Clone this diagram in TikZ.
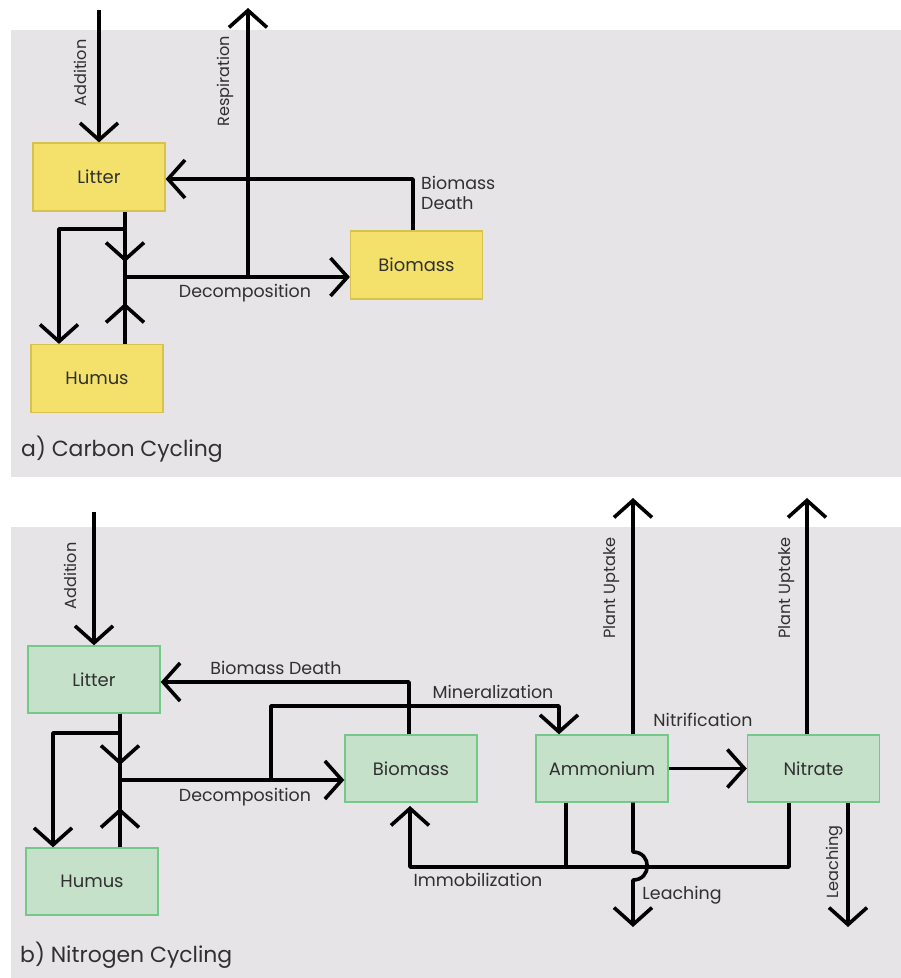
\documentclass[tikz,border=0pt]{standalone}
\usepackage{fontspec}
\setmainfont{Poppins}
\usetikzlibrary{arrows.meta}
\definecolor{panelgray}{HTML}{E6E4E6}
\definecolor{yfill}{HTML}{F3E16C}
\definecolor{ydraw}{HTML}{D6C24C}
\definecolor{gfill}{HTML}{C5E1C9}
\definecolor{gdraw}{HTML}{74C98A}
\definecolor{txt}{HTML}{303030}
\tikzset{
  flow/.style={line width=3.6bp, draw=black, line join=round,
    -{Straight Barb[length=17bp,width=38bp,line width=3.6bp]}},
  plain/.style={line width=3.6bp, draw=black, line join=round},
  ybox/.style={draw=ydraw, fill=yfill, line width=1.2bp, minimum width=132bp, minimum height=68bp, font=\fontsize{18}{20}\selectfont, text=txt, inner sep=0pt},
  gbox/.style={draw=gdraw, fill=gfill, line width=1.4bp, minimum width=132bp, minimum height=67bp, font=\fontsize{18}{20}\selectfont, text=txt, inner sep=0pt},
  lbl/.style={font=\fontsize{17.5}{20}\selectfont, text=txt, inner sep=0pt},
  vlbl/.style={font=\fontsize{16.2}{18}\selectfont, text=txt, inner sep=0pt, rotate=90},
  captxt/.style={font=\fontsize{22}{24}\selectfont, text=txt, inner sep=0pt, anchor=west},
}
\begin{document}
\begin{tikzpicture}[x=1bp,y=-1bp]
\useasboundingbox (0,0) rectangle (901,978);
\fill[white] (0,0) rectangle (901,978);
\fill[panelgray] (11,30) rectangle (901,477);
\fill[panelgray] (11,527) rectangle (901,978);

% ---------- a) Carbon cycling ----------
\node[ybox] (litC) at (99,177) {Litter};
\node[ybox] (humC) at (97,378.5) {Humus};
\node[ybox] (bioC) at (416.5,265) {Biomass};

\coordinate (addC) at (99,10);
\coordinate (jC) at (125,277);
\coordinate (jCa) at (125,262);
\coordinate (jCb) at (125,303);
\coordinate (brC) at (125,229);
\coordinate (brCL) at (59,229);
\coordinate (resT) at (248,8);
\coordinate (resB) at (248,277);
\coordinate (bdC) at (413,179);

\draw[flow] (addC) -- (litC.north);
\draw[plain] (litC.south -| jC) -- (jC);
\draw[plain] (humC.north -| jC) -- (jC);
\draw[flow] (litC.south -| jC) -- (jCa);
\draw[flow] (humC.north -| jC) -- (jCb);
\draw[flow] (brC) -- (brCL) -- (humC.north -| brCL);
\draw[flow] (jC) -- (bioC.west |- jC);
\draw[flow] (resB) -- (resT);
\draw[flow] (bioC.north -| bdC) -- (bdC) -- (litC.east |- bdC);

\node[vlbl] (lAddC) at (80,73) {Addition};
\node[vlbl] (lResC) at (225,81) {Respiration};
\node[lbl, anchor=west, align=left] (lBdC) at (421,193) {Biomass\\Death};
\node[lbl] (lDecC) at (245,293) {Decomposition};
\node[captxt] (capA) at (21,449) {a) Carbon Cycling};

% ---------- b) Nitrogen cycling ----------
\node[gbox] (litN) at (94,679.5) {Litter};
\node[gbox] (humN) at (92,881.5) {Humus};
\node[gbox] (bioN) at (411,768.5) {Biomass};
\node[gbox] (ammN) at (602,768.5) {Ammonium};
\node[gbox] (nitN) at (813.5,768.5) {Nitrate};

\coordinate (addN) at (94,512);
\coordinate (jN) at (120,780);
\coordinate (jNa) at (120,765);
\coordinate (jNb) at (120,808);
\coordinate (brN) at (120,733);
\coordinate (brNL) at (53,733);
\coordinate (bdN) at (409,682);
\coordinate (minA) at (271,780);
\coordinate (minB) at (271,706);
\coordinate (minC) at (559,706);
\coordinate (puA) at (633,498);
\coordinate (puB) at (807,498);
\coordinate (hopT) at (633,852);
\coordinate (hopB) at (633,880);
\coordinate (leA) at (633,927);
\coordinate (leB) at (848,927);
\coordinate (imR) at (789,867);
\coordinate (imL) at (410,867);
\coordinate (imT) at (410,806);
\coordinate (imM) at (566,867);

\draw[flow] (addN) -- (litN.north);
\draw[plain] (litN.south -| jN) -- (jN);
\draw[plain] (humN.north -| jN) -- (jN);
\draw[flow] (litN.south -| jN) -- (jNa);
\draw[flow] (humN.north -| jN) -- (jNb);
\draw[flow] (brN) -- (brNL) -- (humN.north -| brNL);
\draw[flow] (jN) -- (bioN.west |- jN);
\draw[flow] (bioN.north -| bdN) -- (bdN) -- (litN.east |- bdN);
\draw[flow] (minA) -- (minB) -- (minC) -- (ammN.north -| minC);
\draw[flow] (ammN.north -| puA) -- (puA);
\draw[flow] (nitN.north -| puB) -- (puB);
\draw[flow] (ammN.east) -- (nitN.west);
\draw[flow] (nitN.south -| leB) -- (leB);
\draw[flow] (nitN.south -| imR) -- (imR) -- (imL) -- (imT);
\draw[plain] (ammN.south -| imM) -- (imM);
\draw[flow] (ammN.south -| hopT) -- (hopT) .. controls (652,852) and (652,880) .. (hopB) -- (leA);

\node[vlbl] (lAddN) at (70,576) {Addition};
\node[lbl] (lBdN) at (276,668) {Biomass Death};
\node[lbl] (lMin) at (493,692) {Mineralization};
\node[lbl] (lDecN) at (245,797) {Decomposition};
\node[vlbl] (lPuA) at (612,588) {Plant Uptake};
\node[vlbl] (lPuB) at (787,588) {Plant Uptake};
\node[lbl] (lNit) at (703,720) {Nitrification};
\node[lbl] (lImm) at (478,880) {Immobilization};
\node[lbl] (lLeA) at (682,895) {Leaching};
\node[vlbl] (lLeB) at (835,862) {Leaching};
\node[captxt] (capB) at (20,955) {b) Nitrogen Cycling};
\end{tikzpicture}
\end{document}
